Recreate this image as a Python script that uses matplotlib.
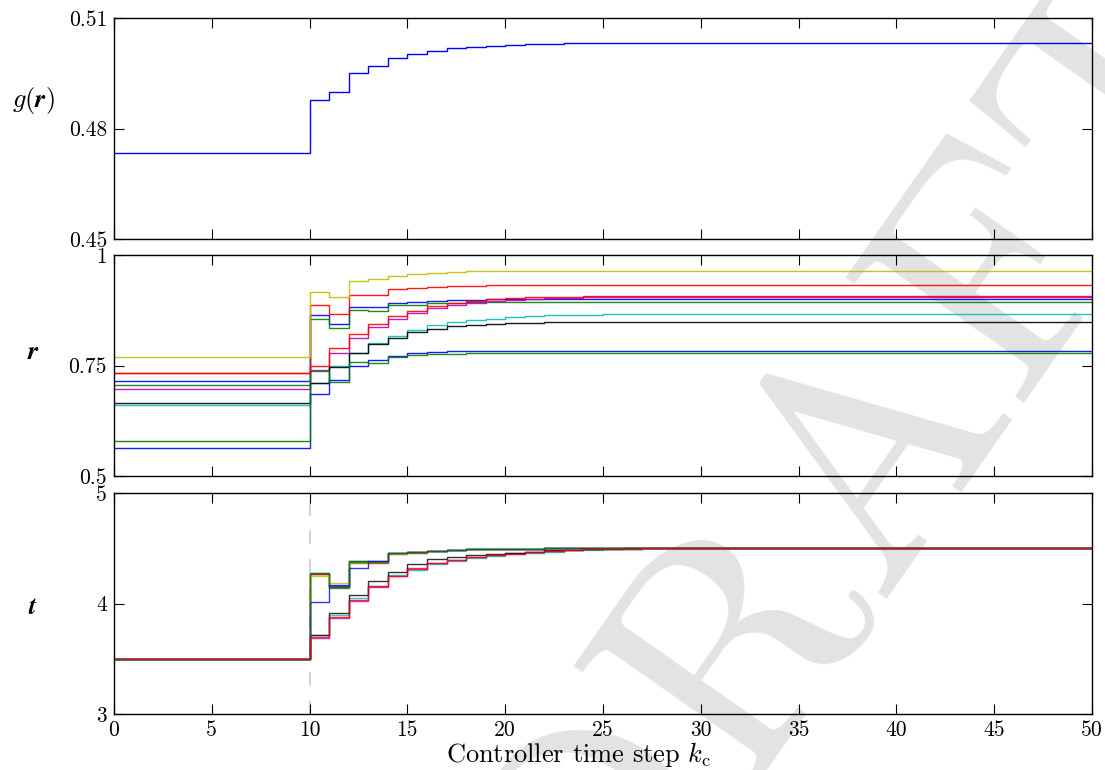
import numpy as np
import matplotlib
matplotlib.use("Agg")
import matplotlib.pyplot as plt
from matplotlib.ticker import FixedLocator, FixedFormatter

plt.rcParams['font.family'] = 'serif'
plt.rcParams['font.serif'] = ['cmr10', 'DejaVu Serif']
plt.rcParams['mathtext.fontset'] = 'cm'
plt.rcParams['axes.formatter.use_mathtext'] = True

# ---------------- data ----------------
n_steps = 50
k_change = 10
series_colors = ['b', 'g', 'r', 'c', 'm', 'y', 'k', 'b', 'g', 'r']

# top panel g(r)
g_init = 0.4733
g_after = [0.4877, 0.4898, 0.4950, 0.4970, 0.4991, 0.5002, 0.5011, 0.5018,
           0.5022, 0.5025, 0.5028, 0.5029, 0.5030, 0.5031, 0.5031, 0.5032]

# middle panel r (one entry per series)
r_init = [0.7145, 0.7054, 0.734, 0.6602, 0.6977, 0.770, 0.6647, 0.5633, 0.580, 0.734]
r_after = [
    [0.864, 0.8446, 0.883, 0.882, 0.892, 0.894, 0.897, 0.898, 0.899, 0.8995, 0.900, 0.9005, 0.901],
    [0.856, 0.8356, 0.8756, 0.874, 0.886, 0.8876, 0.8906, 0.891, 0.8929, 0.8935, 0.894],
    [0.888, 0.867, 0.9105, 0.910, 0.923, 0.925, 0.927, 0.929, 0.930, 0.931, 0.9315, 0.932],
    [0.7097, 0.749, 0.7776, 0.802, 0.8175, 0.8303, 0.8408, 0.8477, 0.8522, 0.856, 0.8597,
     0.862, 0.8635, 0.8645, 0.865, 0.8655, 0.866, 0.8665],
    [0.739, 0.7776, 0.8122, 0.8363, 0.8559, 0.8688, 0.8793, 0.887, 0.892, 0.896, 0.899,
     0.901, 0.9025, 0.9035, 0.904, 0.9045, 0.905],
    [0.9156, 0.9057, 0.941, 0.945, 0.953, 0.957, 0.960, 0.962, 0.963, 0.9635, 0.964],
    [0.7097, 0.7466, 0.779, 0.7986, 0.813, 0.825, 0.8326, 0.8386, 0.842, 0.844, 0.8461,
     0.847, 0.848, 0.8485, 0.849],
    [0.685, 0.717, 0.749, 0.763, 0.772, 0.7775, 0.7805, 0.782, 0.7825, 0.783],
    [0.7375, 0.712, 0.757, 0.7565, 0.770, 0.773, 0.7752, 0.776, 0.7775, 0.778],
    [0.7496, 0.789, 0.8213, 0.8446, 0.8619, 0.874, 0.8846, 0.8906, 0.8959, 0.9004, 0.9027,
     0.904, 0.905, 0.906, 0.907],
]

# bottom panel t
t_init = [3.5] * 10
t_after = [
    [4.270, 4.160, 4.385, 4.385, 4.454, 4.463, 4.478, 4.487, 4.490, 4.493, 4.495, 4.497, 4.498, 4.499, 4.5],
    [4.279, 4.140, 4.387, 4.380, 4.454, 4.463, 4.478, 4.487, 4.490, 4.493, 4.495, 4.497, 4.498, 4.499, 4.5],
    [4.266, 4.147, 4.370, 4.370, 4.445, 4.460, 4.478, 4.487, 4.490, 4.493, 4.495, 4.497, 4.498, 4.499, 4.5],
    [3.715, 3.900, 4.047, 4.160, 4.255, 4.304, 4.360, 4.385, 4.415, 4.430, 4.450, 4.460, 4.470,
     4.480, 4.487, 4.492, 4.496, 4.499, 4.5],
    [3.685, 3.869, 4.026, 4.150, 4.249, 4.319, 4.370, 4.393, 4.423, 4.440, 4.455, 4.465, 4.475,
     4.483, 4.490, 4.494, 4.497, 4.499, 4.5],
    [4.247, 4.183, 4.370, 4.380, 4.450, 4.463, 4.478, 4.487, 4.490, 4.493, 4.495, 4.497, 4.498, 4.499, 4.5],
    [3.715, 3.912, 4.077, 4.201, 4.288, 4.355, 4.400, 4.423, 4.440, 4.450, 4.460, 4.470, 4.480,
     4.487, 4.490, 4.495, 4.498, 4.5],
    [4.017, 4.165, 4.320, 4.385, 4.454, 4.463, 4.478, 4.487, 4.490, 4.493, 4.495, 4.497, 4.498, 4.499, 4.5],
    [4.275, 4.150, 4.380, 4.380, 4.454, 4.463, 4.478, 4.487, 4.490, 4.493, 4.495, 4.497, 4.498, 4.499, 4.5],
    [3.700, 3.880, 4.035, 4.155, 4.252, 4.315, 4.365, 4.390, 4.420, 4.437, 4.452, 4.463, 4.473,
     4.482, 4.489, 4.494, 4.497, 4.499, 4.5],
]

x_ticks = [0, 5, 10, 15, 20, 25, 30, 35, 40, 45, 50]
g_ticks = [0.45, 0.48, 0.51]
g_ticklabels = ['0.45', '0.48', '0.51']
r_ticks = [0.5, 0.75, 1.0]
r_ticklabels = ['0.5', '0.75', '1']
t_ticks = [3, 4, 5]
t_ticklabels = ['3', '4', '5']
watermark_text = 'DRAFT'


def full_series(init, after):
    """Hold init before k_change, then the read values, then hold the last one."""
    vals = [init] * k_change + list(after)
    vals += [after[-1]] * (n_steps + 1 - len(vals))
    return np.array(vals[:n_steps + 1])


k = np.arange(n_steps + 1)

# ---------------- figure ----------------
fig = plt.figure(figsize=(11.05, 7.70), dpi=100)
W, H = 1105, 770

# light watermark behind everything
fig.text(870 / W, 1 - 470 / H, watermark_text, fontsize=230, color='#e3e3e3',
         rotation=55, ha='center', va='center', zorder=-10,
         family='serif')


def ax_rect(x0, y0, x1, y1):
    return [x0 / W, 1 - y1 / H, (x1 - x0) / W, (y1 - y0) / H]


ax1 = fig.add_axes(ax_rect(114, 18, 1092, 239))
ax2 = fig.add_axes(ax_rect(114, 255, 1092, 476))
ax3 = fig.add_axes(ax_rect(114, 493, 1092, 714))
for ax in (ax1, ax2, ax3):
    ax.set_facecolor('none')

lw = 1.0
ax1.step(k, full_series(g_init, g_after), where='post', color='b', lw=lw)
for c, i0, aft in zip(series_colors, r_init, r_after):
    ax2.step(k, full_series(i0, aft), where='post', color=c, lw=lw, alpha=0.9)
ax3.axvline(k_change, color='#c8c8c8', lw=1.2, ls=(0, (8, 9)), zorder=0)
for c, i0, aft in zip(series_colors, t_init, t_after):
    ax3.step(k, full_series(i0, aft), where='post', color=c, lw=lw, alpha=0.8)

for ax, yt, ytl, ylim in [(ax1, g_ticks, g_ticklabels, (0.45, 0.51)),
                          (ax2, r_ticks, r_ticklabels, (0.5, 1.0)),
                          (ax3, t_ticks, t_ticklabels, (3, 5))]:
    ax.set_xlim(0, 50)
    ax.set_ylim(*ylim)
    ax.xaxis.set_major_locator(FixedLocator(x_ticks))
    ax.yaxis.set_major_locator(FixedLocator(yt))
    ax.yaxis.set_major_formatter(FixedFormatter(ytl))
    ax.tick_params(direction='in', top=True, right=True, length=7, width=0.8,
                   labelsize=15.5, pad=5)
    for s in ax.spines.values():
        s.set_linewidth(1.0)

ax1.tick_params(labelbottom=False)
ax2.tick_params(labelbottom=False)
ax3.set_xticklabels([str(v) for v in x_ticks])
ax3.set_xlabel(r'Controller time step $k_{\mathrm{c}}$', fontsize=19)
ax3.xaxis.set_label_coords(0.475, -0.118)

fig.text(33 / W, 1 - 100 / H, r'$g(\mathbfit{r})$', fontsize=19, ha='center', va='center')
fig.text(33 / W, 1 - 352 / H, r'$\mathbfit{r}$', fontsize=19, ha='center', va='center')
fig.text(33 / W, 1 - 607 / H, r'$\mathbfit{t}$', fontsize=19, ha='center', va='center')

fig.savefig('out.png', dpi=100)
